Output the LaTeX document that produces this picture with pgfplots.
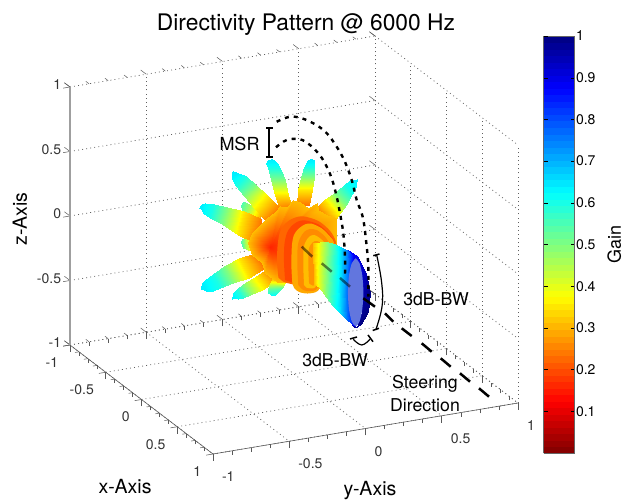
\documentclass[border=0pt]{standalone}
\usepackage{pgfplots}
\pgfplotsset{compat=1.18}
\usepackage{fontspec}
\setmainfont{TeX Gyre Heros}
\definecolor{rs0}{rgb}{1,.40,0}
\definecolor{rs1}{rgb}{1,.28,0}
\definecolor{rs2}{rgb}{1,.66,0}
\definecolor{rs3}{rgb}{1,.54,0}
\definecolor{rs4}{rgb}{1,.74,0}
\definecolor{rs5}{rgb}{1,.58,0}
\definecolor{ellfill}{RGB}{98,118,222}
\pgfplotsset{
  lobe/.style={surf,shader=interp,mesh/cols=2,point meta=explicit,forget plot},
  ring/.style={fill=#1,draw=none,smooth,tension=0.5,mark=none,forget plot},
}
\begin{document}
\begin{tikzpicture}
\useasboundingbox (0,0) rectangle (625pt,500pt);
\begin{axis}[
  at={(294pt,255pt)},anchor=origin,disabledatascaling,
  x={(71.5pt,-54.5pt)},y={(152.5pt,25.5pt)},z={(0pt,129pt)},
  xmin=-1,xmax=1,ymin=-1,ymax=1,zmin=-1,zmax=1,
  clip=false,
  xtick={-1,-0.5,0,0.5,1},ytick={-1,-0.5,0,0.5,1},ztick={-1,-0.5,0,0.5,1},
  xticklabels={-1,-0.5,0,0.5,1},yticklabels={-1,-0.5,0,0.5,1},zticklabels={-1,-0.5,0,0.5,1},
  minor x tick num=3,minor y tick num=3,
  tick pos=lower,
  grid=major,major grid style={gray!75!black,line width=0.75pt,dash pattern=on 0.9pt off 3.2pt},
  axis line style={draw=none},
  tick align=outside,tick style={gray!70!black,line width=0.5pt},
  major tick length=7pt,minor tick length=4pt,
  tick label style={font=\fontsize{14}{16}\selectfont,text=black!80},
  xticklabel style={anchor=east,xshift=-1.5pt,yshift=-16.3pt},
  yticklabel style={anchor=west,xshift=0pt,yshift=-18.5pt},
  zticklabel style={anchor=east,xshift=1.5pt,yshift=3.5pt},
  colormap={rjet}{rgb(0pt)=(.5,0,0) rgb(1pt)=(1,0,0) rgb(3pt)=(1,1,0) rgb(5pt)=(0,1,1) rgb(7pt)=(0,0,1) rgb(8pt)=(0,0,.5)},
  point meta min=0,point meta max=1,
  colorbar sampled,
  colorbar style={
    samples=65,
    at={(parent axis.origin)},anchor=south west,xshift=241pt,yshift=-208pt,
    width=31pt,height=417pt,
    ytick={0.1,0.2,0.3,0.4,0.5,0.6,0.7,0.8,0.9,1},
    yticklabels={0.1,0.2,0.3,0.4,0.5,0.6,0.7,0.8,0.9,1},
    ytick pos=both,yticklabel pos=right,tick align=inside,
    major tick length=4pt,
    tick style={black},
    axis line style={draw=gray!80!black,line width=0.8pt},
    tick label style={font=\fontsize{14}{16}\selectfont,text=black},
    yticklabel style={xshift=-2pt},
    ylabel={Gain},ylabel style={font=\fontsize{18}{20}\selectfont,yshift=-5pt},
  },
  title={Directivity Pattern @ 6000 Hz},
  title style={at={(axis cs:-1,0.5475,1.135)},anchor=center,font=\fontsize{22.8}{24}\selectfont},
  xlabel={x-Axis},ylabel={y-Axis},zlabel={z-Axis},
  xlabel style={at={(axis cs:1.275,-1.706,-1)},anchor=center,font=\fontsize{19.5}{22}\selectfont},
  ylabel style={at={(axis cs:1.937,-0.41,-1)},anchor=center,font=\fontsize{19.5}{22}\selectfont},
  zlabel style={at={(axis cs:-1,-1.328,0.042)},anchor=center,rotate=0,font=\fontsize{19.5}{22}\selectfont},
]
\draw[gray!70!black,line width=0.6pt] (axis cs:-1,-1,-1)--(axis cs:1,-1,-1)--(axis cs:1,1,-1);
\draw[gray!75,line width=1.6pt] (axis cs:-1,-1,-1)--(axis cs:-1,-1,1);
% small side lobes
\addplot3[lobe] table[meta=m] {
x y z m
-.090 -.192 .189 .3
-.077 -.165 .271 .3
-.115 -.246 .233 .44
-.104 -.222 .302 .44
-.132 -.281 .271 .52
-.123 -.263 .333 .52
-.134 -.287 .310 .55
-.129 -.276 .333 .55
};
\addplot3[lobe] table[meta=m] {
x y z m
-.098 -.210 .078 .28
-.094 -.201 -.052 .28
-.119 -.254 .059 .42
-.115 -.246 -.039 .42
-.132 -.281 .044 .52
-.128 -.272 -.026 .52
-.133 -.285 .026 .55
-.132 -.281 -.008 .55
};
% spike A
\addplot3[lobe] table[meta=m] {
x y z m
-.035 -.075 .271 .24
-.006 -.013 .284 .24
-.048 -.103 .388 .35
-.014 -.030 .388 .35
-.058 -.122 .504 .5
-.024 -.051 .504 .5
-.065 -.139 .594 .6
-.037 -.077 .594 .6
-.069 -.148 .633 .63
-.043 -.092 .633 .63
-.065 -.139 .656 .64
-.049 -.105 .656 .64
-.059 -.126 .667 .64
-.055 -.118 .667 .64
};
% spike G
\addplot3[lobe] table[meta=m] {
x y z m
.008 .018 .310 .24
.039 .082 .310 .24
.010 .023 .426 .35
.046 .097 .426 .35
.017 .037 .530 .5
.050 .106 .530 .5
.027 .056 .607 .6
.052 .113 .607 .6
.031 .066 .638 .63
.052 .112 .633 .63
.036 .076 .656 .64
.050 .107 .656 .64
.041 .088 .667 .64
.045 .096 .667 .64
};
% spike B
\addplot3[lobe] table[meta=m] {
x y z m
-.067 -.143 .181 .24
-.035 -.075 .284 .24
-.100 -.215 .288 .37
-.071 -.151 .397 .37
-.125 -.268 .381 .5
-.096 -.205 .464 .5
-.146 -.313 .459 .6
-.121 -.258 .531 .6
-.157 -.336 .508 .63
-.134 -.286 .554 .63
-.156 -.332 .535 .64
-.141 -.302 .561 .64
-.157 -.334 .565 .64
-.154 -.328 .573 .64
};
% spike C
\addplot3[lobe] table[meta=m] {
x y z m
-.081 -.174 .199 .24
-.098 -.210 .018 .24
-.127 -.269 .261 .35
-.141 -.302 .074 .35
-.168 -.360 .293 .5
-.181 -.385 .162 .5
-.202 -.433 .316 .6
-.211 -.449 .211 .6
-.224 -.477 .326 .63
-.228 -.488 .250 .63
-.231 -.493 .315 .64
-.232 -.495 .268 .64
-.238 -.508 .302 .64
-.239 -.509 .286 .64
};
% spike D
\addplot3[lobe] table[meta=m] {
x y z m
-.098 -.210 -.059 .24
-.073 -.156 -.181 .24
-.138 -.294 -.098 .35
-.113 -.242 -.253 .35
-.176 -.375 -.162 .5
-.152 -.326 -.298 .5
-.204 -.437 -.224 .6
-.187 -.398 -.332 .6
-.225 -.480 -.272 .63
-.212 -.453 -.361 .63
-.233 -.497 -.295 .64
-.222 -.474 -.359 .64
-.235 -.501 -.335 .64
-.234 -.499 -.345 .64
};
% spike E
\addplot3[lobe] table[meta=m] {
x y z m
-.073 -.156 -.194 .27
-.048 -.102 -.284 .27
-.102 -.219 -.253 .38
-.081 -.174 -.349 .38
-.128 -.272 -.305 .5
-.111 -.237 -.388 .5
-.144 -.308 -.341 .59
-.129 -.276 -.411 .59
-.154 -.330 -.370 .62
-.140 -.299 -.419 .62
-.154 -.330 -.390 .63
-.149 -.317 -.413 .63
-.157 -.335 -.413 .63
-.155 -.331 -.417 .63
};
% spike F
\addplot3[lobe] table[meta=m] {
x y z m
-.054 -.115 -.245 .27
-.017 -.036 -.258 .27
-.060 -.129 -.297 .4
-.024 -.052 -.302 .4
-.066 -.142 -.341 .53
-.031 -.066 -.336 .53
-.065 -.138 -.370 .58
-.039 -.084 -.362 .58
-.059 -.125 -.390 .62
-.049 -.104 -.385 .62
};
% spike H
\addplot3[lobe] table[meta=m] {
x y z m
.053 .113 .276 .24
.091 .194 .129 .24
.075 .161 .346 .35
.110 .235 .223 .35
.100 .215 .403 .5
.131 .279 .310 .5
.126 .270 .463 .6
.147 .314 .395 .6
.144 .308 .509 .63
.156 .334 .452 .63
.151 .323 .504 .64
.155 .332 .481 .64
.157 .337 .512 .64
.159 .340 .505 .64
};
% central body
\addplot3[lobe] table[meta=m] {
x y z m
-.060 -.129 -.013 .16
-.048 -.102 .258 .31
-.060 -.129 -.013 .16
-.035 -.075 .302 .31
-.060 -.129 -.013 .16
-.018 -.039 .292 .31
-.060 -.129 -.013 .16
-.002 -.004 .349 .31
-.060 -.129 -.013 .16
.015 .032 .336 .31
-.060 -.129 -.013 .16
.036 .077 .284 .31
-.060 -.129 -.013 .16
.057 .122 .323 .31
-.060 -.129 -.013 .16
.061 .131 .271 .31
-.060 -.129 -.013 .16
.082 .176 .233 .31
-.060 -.129 -.013 .16
.107 .229 .207 .31
-.060 -.129 -.013 .16
.107 .229 .013 .31
-.060 -.129 -.013 .16
.082 .176 -.168 .31
-.060 -.129 -.013 .16
.032 .068 -.323 .31
-.060 -.129 -.013 .16
-.010 -.022 -.297 .31
-.060 -.129 -.013 .16
-.044 -.093 -.284 .31
-.060 -.129 -.013 .16
-.073 -.156 -.220 .31
-.060 -.129 -.013 .16
-.081 -.174 -.142 .31
-.060 -.129 -.013 .16
-.107 -.228 -.078 .31
-.060 -.129 -.013 .16
-.115 -.246 .013 .31
-.060 -.129 -.013 .16
-.107 -.228 .090 .31
-.060 -.129 -.013 .16
-.086 -.183 .155 .31
-.060 -.129 -.013 .16
-.069 -.147 .207 .31
-.060 -.129 -.013 .16
-.048 -.102 .258 .31
};
% rings of side lobes around the beam
\addplot3[ring=rs0] coordinates {(-.039,-.084,-.253)(-.043,-.091,-.129)(-.041,-.088,0)(-.035,-.075,.103)(-.021,-.045,.168)(-.002,-.004,.207)(.023,.050,.222)(.061,.131,.186)(.091,.194,.109)(.106,.226,.021)(.103,.220,-.078)(.074,.158,-.194)(.028,.059,-.310)(-.010,-.022,-.300)(-.027,-.057,-.284)(-.039,-.084,-.253)};
\addplot3[ring=rs1] coordinates {(-.023,-.048,-.271)(-.025,-.054,-.129)(-.024,-.052,0)(-.018,-.039,.090)(-.008,-.016,.142)(.009,.020,.181)(.028,.059,.191)(.061,.131,.160)(.086,.185,.090)(.102,.217,.021)(.096,.206,-.078)(.070,.149,-.181)(.028,.059,-.297)(-.006,-.013,-.289)(-.023,-.048,-.271)};
\addplot3[ring=rs2] coordinates {(-.004,-.009,-.297)(-.007,-.014,-.155)(-.005,-.011,0)(0,0,.078)(.011,.023,.124)(.028,.059,.160)(.044,.095,.165)(.070,.149,.129)(.091,.194,.065)(.102,.217,.013)(.095,.202,-.103)(.065,.140,-.336)(.040,.086,-.375)(.015,.032,-.367)(.001,.002,-.336)(-.004,-.009,-.297)};
\addplot3[ring=rs3] coordinates {(.011,.023,-.310)(.008,.018,-.155)(.009,.020,-.013)(.015,.032,.052)(.026,.056,.103)(.040,.086,.124)(.057,.122,.116)(.074,.158,.078)(.086,.185,.026)(.091,.194,-.052)(.061,.131,-.323)(.040,.086,-.357)(.023,.050,-.349)(.011,.023,-.310)};
\addplot3[ring=rs4] coordinates {(.025,.054,-.310)(.023,.050,-.155)(.024,.052,-.026)(.029,.063,.026)(.039,.082,.065)(.051,.109,.078)(.065,.140,.052)(.078,.167,.013)(.082,.176,-.052)(.057,.122,-.310)(.040,.086,-.336)(.032,.068,-.331)(.025,.054,-.310)};
\addplot3[ring=rs5] coordinates {(.038,.081,-.297)(.036,.077,-.155)(.037,.079,-.039)(.043,.091,.005)(.053,.113,.031)(.065,.140,.021)(.074,.158,-.013)(.074,.158,-.078)(.053,.113,-.297)(.044,.095,-.310)(.038,.081,-.297)};
% back of the main lobe
\addplot3[lobe] table[meta=m] {
x y z m
.141 .301 -.103 .88
.137 .292 -.039 .85
.154 .328 -.116 .88
.158 .337 -.083 .9
.170 .364 -.207 .92
.180 .385 -.220 .95
.175 .373 -.367 .96
.191 .409 -.375 1
.170 .364 -.517 .98
.185 .396 -.517 1
.158 .337 -.636 .98
.169 .360 -.615 1
.145 .310 -.620 .95
.154 .328 -.641 1
};
% main lobe
\addplot3[lobe] table[meta=m] {
x y z m
.049 .104 .013 .31
.051 .109 -.305 .31
.065 .140 .021 .40
.063 .134 -.323 .40
.086 .185 .021 .5
.081 .172 -.401 .5
.103 .220 .005 .58
.096 .206 -.465 .58
.118 .253 -.013 .66
.116 .247 -.530 .66
.133 .283 -.039 .75
.130 .278 -.574 .75
.145 .310 -.078 .85
.145 .310 -.615 .85
.154 .328 -.103 .92
.155 .332 -.636 .92
};
% opening of the main lobe
\addplot3[ring=ellfill] coordinates {(.155,.332,-.103)(.165,.352,-.140)(.172,.367,-.235)(.175,.373,-.367)(.172,.367,-.499)(.165,.352,-.594)(.155,.332,-.630)(.146,.311,-.594)(.138,.296,-.499)(.136,.290,-.367)(.138,.296,-.235)(.146,.311,-.140)(.155,.332,-.103)};
\end{axis}
\begin{scope}[shift={(0,500pt)},x=1pt,y=-1pt]
\draw[black,line width=2.4pt,dash pattern=on 4pt off 5pt] plot[smooth,tension=0.6] coordinates {(276.7,121.7)(290,116.7)(301.7,118.3)(313.3,123.3)(323.3,130)(331.7,139.3)(343.3,158.3)(351.7,180)(356.7,200)(362.7,216.7)(366,240)(368.3,266.7)(368.3,296.7)};
\draw[black,line width=2.4pt,dash pattern=on 4pt off 5pt] plot[smooth,tension=0.6] coordinates {(276,147.3)(286.7,140)(300,139.3)(310,145)(318.3,153.3)(325,163.3)(331.7,178.3)(336.7,196.7)(340,213.3)(343.3,233.3)(345,256.7)(345,275)};
\begin{scope}[line width=2.5pt,black,opacity=.5]
\draw (301.7,246.7)--(312.3,256.7);
\draw (321.7,263.3)--(331.7,271.7);
\draw (340,278)--(350,286.7);
\end{scope}
\begin{scope}[line width=2.5pt,black]
\draw (363.3,298.3)--(375,306.7);
\draw (385,313.3)--(393.3,321.7);
\draw (401.7,328.3)--(411.7,336);
\draw (421.7,343.3)--(431.7,351.7);
\draw (440.7,358.3)--(450.7,366.7);
\draw (460,373.3)--(470,381.7);
\draw (479,388.3)--(489,396.7);
\end{scope}
% MSR bar
\draw[black,line width=1.7pt] (269.3,128.3)--(269.3,156.7);
\draw[black,line width=2pt] (266,128.3)--(273,128.3);
\draw[black,line width=2pt] (266,156.7)--(273,156.7);
% 3dB brackets
\draw[black,line width=1.2pt] plot[smooth,tension=0.7] coordinates {(376.7,255)(381.7,283)(382,306.7)(375.7,330)};
\draw[black,line width=1.5pt] (373.3,255.7)--(379.5,254);
\draw[black,line width=1.5pt] (372.7,330.5)--(379,328.3);
\draw[black,line width=1.2pt] plot[smooth,tension=0.7] coordinates {(353.3,339.3)(361.7,345)(370,339.3)};
\draw[black,line width=1.5pt] (350,339)--(357,337);
\draw[black,line width=1.5pt] (368,335)--(373,341.7);
\node[font=\fontsize{18}{20}\selectfont] at (239.5,144) {MSR};
\node[font=\fontsize{17.7}{20}\selectfont] at (436,299) {3dB-BW};
\node[font=\fontsize{17.7}{20}\selectfont] at (335,360) {3dB-BW};
\node[font=\fontsize{17.7}{20}\selectfont] at (425,384) {Steering};
\node[font=\fontsize{17.7}{20}\selectfont] at (425,405) {Direction};
\end{scope}
\end{tikzpicture}
\end{document}
